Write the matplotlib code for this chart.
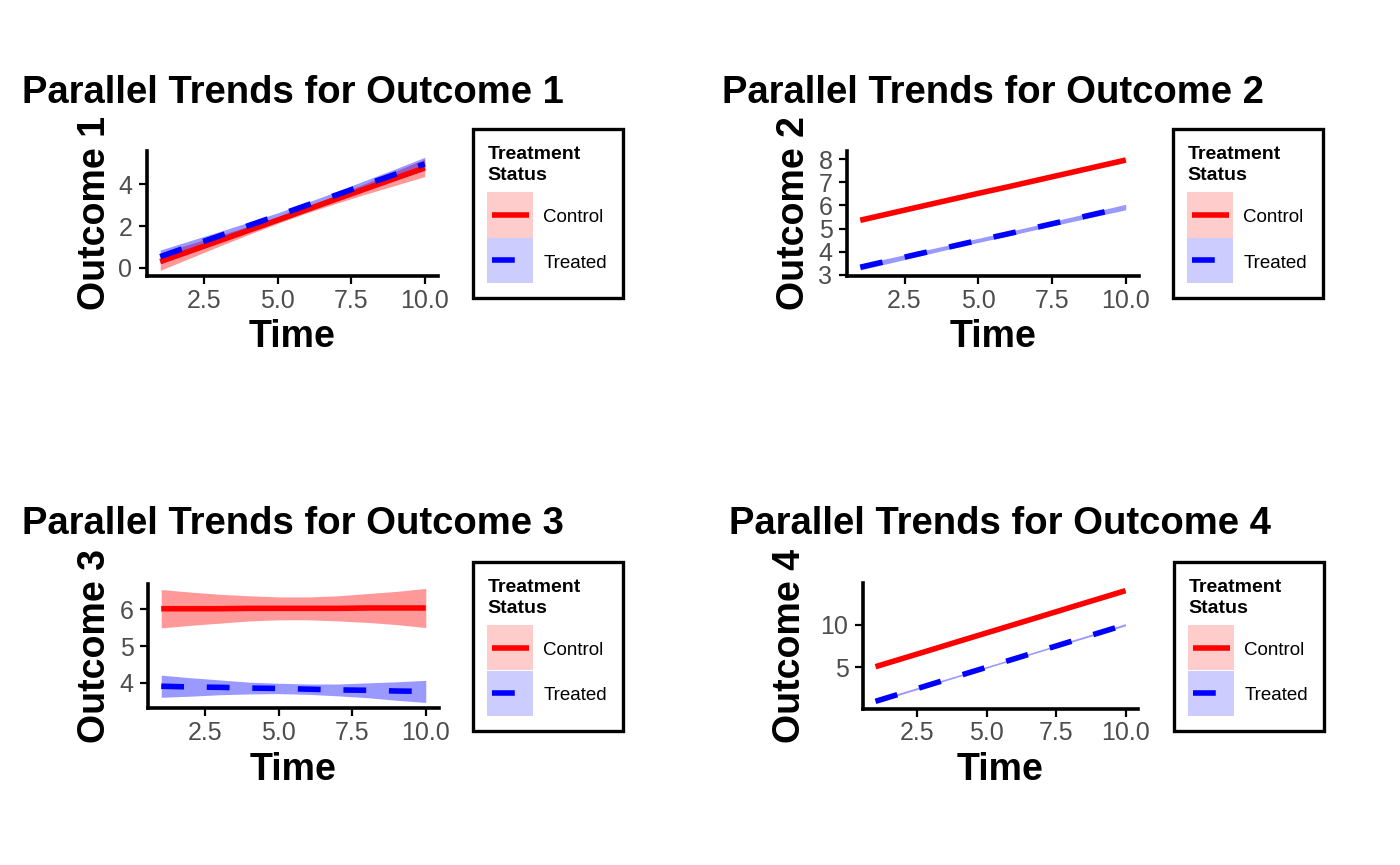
import matplotlib

matplotlib.use("Agg")
import matplotlib.pyplot as plt
from matplotlib.lines import Line2D
from matplotlib.patches import Rectangle

plt.rcParams["font.family"] = ["Liberation Sans", "DejaVu Sans"]

# ---- data (fitted trend and CI half-width) ----
TIME = [1, 2, 3, 4, 5, 6, 7, 8, 9, 10]

CONTROL_1 = [0.29, 0.79, 1.29, 1.79, 2.29, 2.80, 3.30, 3.80, 4.30, 4.80]
CONTROL_1_CI = [0.42, 0.34, 0.26, 0.20, 0.16, 0.16, 0.20, 0.26, 0.34, 0.42]
TREATED_1 = [0.53, 1.03, 1.52, 2.02, 2.51, 3.01, 3.50, 4.00, 4.49, 4.99]
TREATED_1_CI = [0.32, 0.26, 0.21, 0.16, 0.13, 0.13, 0.16, 0.21, 0.26, 0.32]

CONTROL_2 = [5.36, 5.65, 5.94, 6.23, 6.52, 6.80, 7.09, 7.38, 7.67, 7.96]
CONTROL_2_CI = [0.10, 0.08, 0.07, 0.06, 0.05, 0.05, 0.06, 0.07, 0.08, 0.10]
TREATED_2 = [3.33, 3.62, 3.91, 4.20, 4.49, 4.77, 5.06, 5.35, 5.64, 5.93]
TREATED_2_CI = [0.12, 0.11, 0.10, 0.09, 0.09, 0.09, 0.09, 0.10, 0.11, 0.12]

CONTROL_3 = [6.01, 6.01, 6.01, 6.02, 6.02, 6.02, 6.02, 6.03, 6.03, 6.03]
CONTROL_3_CI = [0.52, 0.45, 0.39, 0.34, 0.31, 0.31, 0.34, 0.39, 0.45, 0.53]
TREATED_3 = [3.91, 3.89, 3.88, 3.86, 3.85, 3.83, 3.81, 3.80, 3.78, 3.77]
TREATED_3_CI = [0.30, 0.25, 0.20, 0.16, 0.14, 0.14, 0.16, 0.20, 0.25, 0.30]

CONTROL_4 = [5.07, 6.06, 7.05, 8.05, 9.04, 10.03, 11.02, 12.02, 13.01, 14.00]
CONTROL_4_CI = [0.14, 0.12, 0.11, 0.10, 0.10, 0.10, 0.10, 0.11, 0.12, 0.14]
TREATED_4 = [1.00, 2.00, 3.00, 4.00, 5.00, 6.00, 7.00, 8.00, 9.00, 10.00]
TREATED_4_CI = [0.13, 0.12, 0.11, 0.10, 0.10, 0.10, 0.10, 0.11, 0.12, 0.13]

OUTCOMES = ["Outcome 1", "Outcome 2", "Outcome 3", "Outcome 4"]
Y_TICKS = [[0, 2, 4], [3, 4, 5, 6, 7, 8], [4, 5, 6], [5, 10]]
X_TICKS = [2.5, 5.0, 7.5, 10.0]
X_TICK_LABELS = ["2.5", "5.0", "7.5", "10.0"]
GROUPS = ["Control", "Treated"]

SERIES = [
    (CONTROL_1, CONTROL_1_CI, TREATED_1, TREATED_1_CI),
    (CONTROL_2, CONTROL_2_CI, TREATED_2, TREATED_2_CI),
    (CONTROL_3, CONTROL_3_CI, TREATED_3, TREATED_3_CI),
    (CONTROL_4, CONTROL_4_CI, TREATED_4, TREATED_4_CI),
]

# ---- layout, in pixels of the 1400x865 canvas ----
W, H = 1400, 865
# panel box (left, top, right, bottom), title (x, baseline), ylabel baseline x,
# legend top-left, y limits
LAYOUT = [
    dict(box=(147, 151, 438, 276), title=(22, 103), ylab=105, leg=(471, 127), ylim=(-0.40, 5.61)),
    dict(box=(847, 151, 1139, 276), title=(722, 103), ylab=804, leg=(1171, 127), ylim=(2.95, 8.35)),
    dict(box=(148, 584, 439, 708), title=(22, 534), ylab=105, leg=(471, 560), ylim=(3.32, 6.68)),
    dict(box=(863, 583, 1138, 709), title=(729, 534), ylab=800, leg=(1172, 560), ylim=(0.10, 14.90)),
]
XLABEL_BASELINE = [347.5, 347.5, 780, 780]

RED = "#FF0000"
BLUE = "#0000FF"
LINE_W = 4.0
DASHES = (4.1, 4.1)
TITLE_SIZE = 27.5
LABEL_SIZE = 27


def to_axes(box, px, py):
    left, top, right, bottom = box
    return (px - left) / (right - left), (bottom - py) / (bottom - top)


def draw_group(ax, fit, ci, color, dashed):
    lower = [f - c for f, c in zip(fit, ci)]
    upper = [f + c for f, c in zip(fit, ci)]
    ax.fill_between(TIME, lower, upper, color=color, alpha=0.4, linewidth=0)
    (line,) = ax.plot(TIME, fit, color=color, lw=LINE_W, solid_capstyle="butt",
                      dash_capstyle="butt")
    if dashed:
        line.set_dashes(DASHES)


def draw_legend(fig, x0, y0):
    bw, bh = 154, 173
    lax = fig.add_axes([x0 / W, 1 - (y0 + bh) / H, bw / W, bh / H])
    lax.set_xlim(0, bw)
    lax.set_ylim(bh, 0)
    lax.axis("off")
    lax.add_patch(Rectangle((1.7, 1.7), bw - 3.4, bh - 3.4, fill=False,
                            ec="black", lw=2.4, clip_on=False))
    lax.text(16.5, 32.3, "Treatment", fontsize=14, fontweight="bold", va="baseline")
    lax.text(16.5, 53.0, "Status", fontsize=14, fontweight="bold", va="baseline")
    for i, (label, color) in enumerate(zip(GROUPS, [RED, BLUE])):
        ytop = 64.7 + i * 45.8
        lax.add_patch(Rectangle((16.3, ytop), 46, 45.8, color=color, alpha=0.2, lw=0))
        key = Line2D([21, 58], [ytop + 22.8] * 2, color=color, lw=LINE_W,
                     solid_capstyle="butt", dash_capstyle="butt")
        if i == 1:
            key.set_dashes(DASHES)
        lax.add_line(key)
        lax.text(72.3, ytop + 30.0, label, fontsize=13.5, va="baseline")


fig = plt.figure(figsize=(W / 100, H / 100), dpi=100)

for k, (outcome, series, lay) in enumerate(zip(OUTCOMES, SERIES, LAYOUT)):
    left, top, right, bottom = lay["box"]
    ax = fig.add_axes([left / W, 1 - bottom / H, (right - left) / W, (bottom - top) / H])
    ctrl, ctrl_ci, trt, trt_ci = series
    draw_group(ax, ctrl, ctrl_ci, RED, dashed=False)
    draw_group(ax, trt, trt_ci, BLUE, dashed=True)

    ax.set_xlim(0.55, 10.45)
    ax.set_ylim(*lay["ylim"])
    ax.set_xticks(X_TICKS, X_TICK_LABELS)
    ax.set_yticks(Y_TICKS[k])
    for side in ("top", "right"):
        ax.spines[side].set_visible(False)
    for side in ("left", "bottom"):
        ax.spines[side].set_linewidth(2.6)
        ax.spines[side].set_color("black")
    ax.tick_params(length=6, width=1.6, color="black", labelsize=18,
                   labelcolor="#4D4D4D")
    ax.tick_params(axis="x", pad=3)
    ax.tick_params(axis="y", pad=4.5)

    tx, ty = to_axes(lay["box"], *lay["title"])
    ax.set_title(f"Parallel Trends for {outcome}", loc="left", x=tx, y=ty, pad=0,
                 fontsize=TITLE_SIZE, fontweight="bold", va="baseline")

    ax.set_xlabel("Time", fontsize=LABEL_SIZE, fontweight="bold")
    ax.xaxis.label.set_va("baseline")
    ax.xaxis.set_label_coords(0.5, to_axes(lay["box"], 0, XLABEL_BASELINE[k])[1])

    ax.set_ylabel(outcome, fontsize=LABEL_SIZE, fontweight="bold")
    ax.yaxis.label.set_va("baseline")
    ax.yaxis.set_label_coords(to_axes(lay["box"], lay["ylab"], 0)[0], 0.5)

    draw_legend(fig, *lay["leg"])

fig.savefig("out.png", dpi=100)
